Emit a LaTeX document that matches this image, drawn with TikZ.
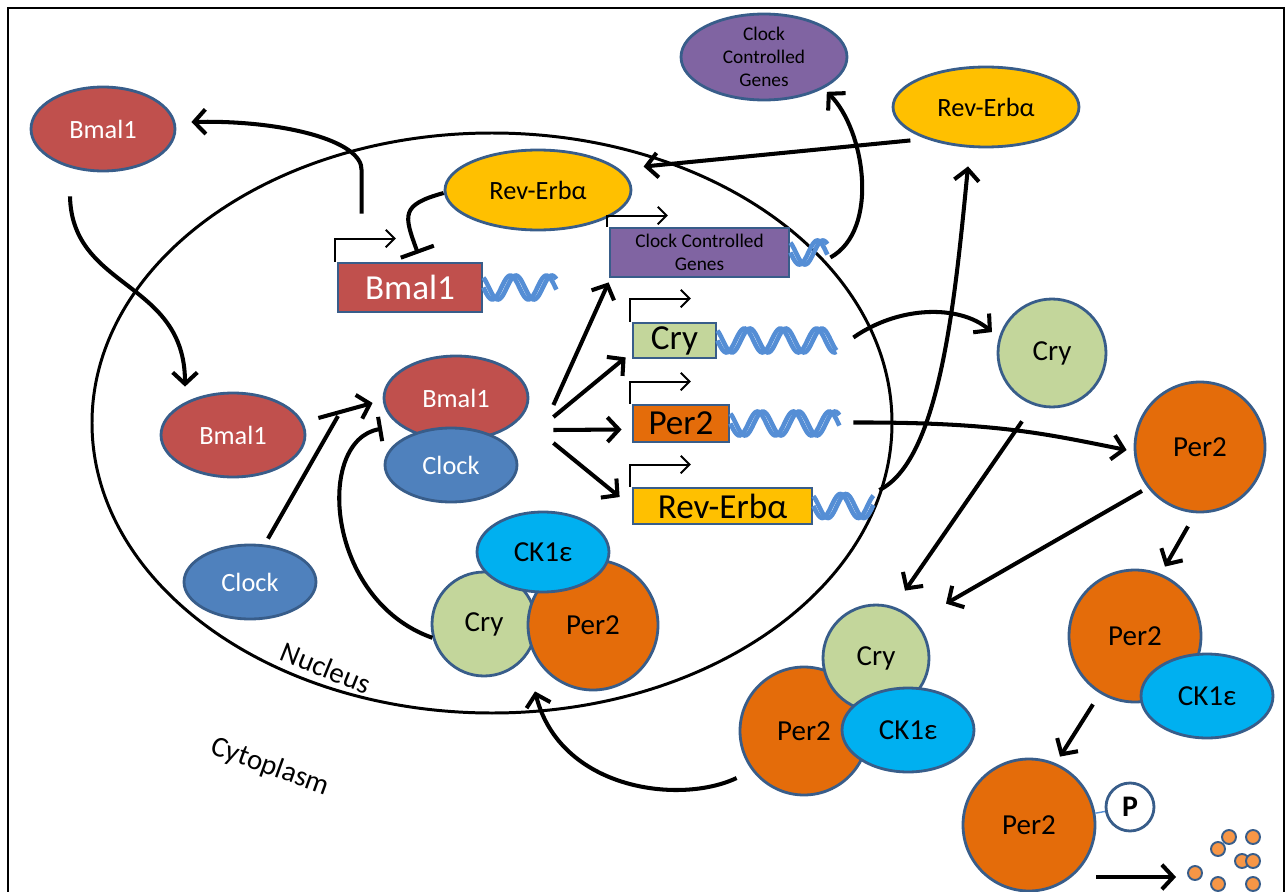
\documentclass[tikz,border=0pt]{standalone}
\usepackage{fontspec}
\setmainfont{Carlito}
\usetikzlibrary{shapes.geometric,arrows.meta}

\definecolor{bmalred}{HTML}{C0504D}
\definecolor{clockblue}{HTML}{4F81BD}
\definecolor{edgeblue}{HTML}{385D8A}
\definecolor{revyellow}{HTML}{FFC000}
\definecolor{ccgpurple}{HTML}{8064A2}
\definecolor{crygreen}{HTML}{C3D69B}
\definecolor{perorange}{HTML}{E46C0A}
\definecolor{ckcyan}{HTML}{00B0F0}
\definecolor{dnablue}{HTML}{558ED5}
\definecolor{dotorange}{HTML}{F79646}

\tikzset{
  prot/.style={ellipse, draw=edgeblue, line width=1.6pt, inner sep=0pt, align=center,
    font=\fontsize{15}{17}\selectfont},
  ball/.style={circle, draw=edgeblue, line width=1.6pt, inner sep=0pt,
    font=\fontsize{16.5}{18}\selectfont},
  gene/.style={rectangle, draw=edgeblue, line width=1.6pt, inner sep=0pt, align=center,
    font=\fontsize{20}{22}\selectfont},
  dot/.style={circle, draw=edgeblue, fill=dotorange, line width=1.1pt, inner sep=0pt,
    minimum size=0.28cm},
  act/.style={line width=2.3pt, -{Straight Barb[length=6.5pt,width=14pt]}},
  inh/.style={line width=2.3pt, -{Bar[width=#1]}},
  inh/.default=20pt,
  prom/.style={line width=1.1pt, -{Straight Barb[length=5pt,width=10pt]}},
  dna/.style={draw=dnablue, line width=2.6pt},
  lbl/.style={font=\fontsize{16.5}{18}\selectfont}
}

\newcommand\promoter[2][23]{\draw[prom] ([xshift=-1pt]#2.north west) -- ++(0,-#1) -- ++(61,0);}
\newcommand\dnahelix[2]{%
  \foreach \ph in {0,55}{%
    \draw[dna,shift={(#1.east)}] plot[domain=0:#2,samples=70,smooth] (\x,{12*sin(10*\x-\ph)});}}

\begin{document}
\begin{tikzpicture}[x=0.02cm,y=-0.02cm]
  \useasboundingbox (0,0) rectangle (1288,892);
  \clip (0,0) rectangle (1288,892);
  \draw[line width=1.4pt] (8,8) rectangle (1284,930);

  \draw[line width=1.7pt] (492,423) ellipse [x radius=400, y radius=290];
  \node[lbl, rotate=-22] (nuclbl) at (326,668) {Nucleus};
  \node[lbl, rotate=-20] (cytolbl) at (270,767) {Cytoplasm};

  % proteins
  \node[prot, fill=bmalred, text=white, minimum width=2.88cm, minimum height=1.68cm] (bmalcyto) at (103,129) {Bmal1};
  \node[prot, fill=bmalred, text=white, minimum width=2.88cm, minimum height=1.68cm] (bmalnuc) at (233,435) {Bmal1};
  \node[prot, fill=bmalred, text=white, minimum width=2.88cm, minimum height=1.68cm] (bmalcx) at (456,398) {Bmal1};
  \node[prot, fill=clockblue, text=white, minimum width=2.64cm, minimum height=1.48cm] (clockcx) at (451,465) {Clock};
  \node[prot, fill=clockblue, text=white, minimum width=2.64cm, minimum height=1.48cm] (clockcyto) at (250,582) {Clock};
  \node[prot, fill=revyellow, minimum width=3.72cm, minimum height=1.6cm] (revnuc) at (538,190) {Rev-Erbα};
  \node[prot, fill=revyellow, minimum width=3.72cm, minimum height=1.6cm] (revcyto) at (986,107) {Rev-Erbα};
  \node[prot, fill=ccgpurple, minimum width=3.32cm, minimum height=1.72cm,
    font=\fontsize{11}{13}\selectfont] (ccgell) at (764,57) {Clock\\Controlled\\Genes};

  \node[ball, fill=crygreen, minimum size=2.16cm] (crycyto) at (1052,353) {Cry};
  \node[ball, fill=perorange, minimum size=2.6cm] (per2) at (1200,447) {Per2};
  \node[ball, fill=perorange, minimum size=2.64cm] (per2ck) at (1135,636) {Per2};
  \node[prot, fill=ckcyan, minimum width=2.64cm, minimum height=1.68cm,
    font=\fontsize{16.5}{18}\selectfont] (ckright) at (1207,696) {CK1ε};
  \node[ball, fill=perorange, minimum size=2.64cm] (per2p) at (1029,825) {Per2};
  \node[ball, fill=white, minimum size=0.96cm, font=\bfseries\fontsize{17}{19}\selectfont] (phos) at (1130,807) {P};
  \draw[draw=dnablue, line width=0.8pt] (per2p) -- (phos);
  \foreach \dx/\dy [count=\i] in {1195/873, 1218/849, 1229/837, 1253/837, 1242/861, 1253/861, 1218/884, 1253/884}
    \node[dot] (d\i) at (\dx,\dy) {};

  \node[ball, fill=crygreen, minimum size=2.08cm] (crynuc) at (484,624) {Cry};
  \node[ball, fill=perorange, minimum size=2.6cm] (pernuc) at (593,625) {Per2};
  \node[prot, fill=ckcyan, minimum width=2.64cm, minimum height=1.6cm,
    font=\fontsize{16.5}{18}\selectfont] (cknuc) at (543,552) {CK1ε};

  \node[ball, fill=perorange, minimum size=2.56cm] (percx) at (804,731) {Per2};
  \node[ball, fill=crygreen, minimum size=2.12cm] (crycx) at (876,658) {Cry};
  \node[prot, fill=ckcyan, minimum width=2.64cm, minimum height=1.68cm,
    font=\fontsize{16.5}{18}\selectfont] (ckcx) at (908,730) {CK1ε};

  % genes
  \node[gene, fill=bmalred, text=white, minimum width=2.88cm, minimum height=0.98cm] (bmalgene) at (410,287.5) {Bmal1};
  \node[gene, fill=ccgpurple, minimum width=3.58cm, minimum height=0.98cm,
    font=\fontsize{11}{13}\selectfont] (ccggene) at (699.5,252.5) {Clock Controlled\\Genes};
  \node[gene, fill=crygreen, minimum width=1.66cm, minimum height=0.7cm] (crygene) at (674.5,340.5) {Cry};
  \node[gene, fill=perorange, minimum width=1.92cm, minimum height=0.74cm] (pergene) at (681,423.5) {Per2};
  \node[gene, fill=revyellow, minimum width=3.58cm, minimum height=0.72cm] (revgene) at (722.5,506) {Rev-Erbα};

  \promoter{bmalgene}
  \promoter[11]{ccggene}
  \promoter{crygene}
  \promoter[22]{pergene}
  \promoter[22]{revgene}

  \dnahelix{bmalgene}{73}
  \dnahelix{ccggene}{37}
  \dnahelix{crygene}{119}
  \dnahelix{pergene}{109}
  \dnahelix{revgene}{60}

  \coordinate (join) at (338,416);

  % connectors
  \draw[act] ([shift={(25,-48)}]bmalgene.north west) -- ++(0,-43)
    .. controls (363,140) and (280,120) .. ([shift={(15,-7)}]bmalcyto.east);
  \draw[act] ([shift={(-33,24)}]bmalcyto.south) .. controls (72,290) and (185,280) .. ([shift={(-48,-5)}]bmalnuc.north);
  \draw[act] ([shift={(12,-17)}]bmalnuc.east) -- ([shift={(-10,5)}]bmalcx.west);
  \draw[line width=2.3pt] ([shift={(18,-5)}]clockcyto.north) -- (join);
  \draw[inh=14pt] (crynuc.195) .. controls (325,600) and (315,440) .. ([xshift=-0.44cm]bmalcx.south west);
  \draw[inh] ([shift={(0,3)}]revnuc.west) .. controls (400,205) and (404,215) .. ([shift={(8,-8)}]bmalgene.north);

  \draw[act] ([shift={(24,7)}]bmalcx.east) -- ([shift={(0,4)}]ccggene.south west);
  \draw[act] ([shift={(24,19)}]bmalcx.east) -- ([shift={(-6,-2)}]crygene.south west);
  \draw[act] ([shift={(24,32)}]bmalcx.east) -- ([shift={(-10,6)}]pergene.west);
  \draw[act] ([shift={(24,45)}]bmalcx.east) -- ([shift={(-12,-9)}]revgene.west);

  \draw[act] ([shift={(40,5)}]ccggene.east) .. controls (880,230) and (865,130) .. ([shift={(6,2)}]ccgell.-30);
  \draw[act] ([shift={(-3,7)}]revcyto.200) -- ([shift={(18,-8)}]revnuc.10);
  \draw[act] ([shift={(66,-16)}]revgene.east) .. controls (940,460) and (955,300) .. ([shift={(-18,18)}]revcyto.south);
  \draw[act] ([shift={(136,-3)}]crygene.east) .. controls (900,305) and (960,305) .. ([shift={(-8,-2)}]crycyto.160);
  \draw[act] ([shift={(123,-1)}]pergene.east) .. controls (1000,422) and (1050,435) .. ([shift={(-7,3)}]per2.west);
  \draw[act] ([shift={(-30,13)}]crycyto.south) -- ([shift={(29,-13)}]crycx.north);
  \draw[act] ([shift={(-5,4)}]per2.217) -- ([shift={(70,0)}]crycx.north);
  \draw[act] ([shift={(-12,13)}]per2.south) -- ([shift={(30,-2)}]per2ck.north);
  \draw[act] ([shift={(-42,1)}]per2ck.south) -- ([shift={(31,-1)}]per2p.north);
  \draw[act] ([shift={(0,52)}]per2p.east) -- ([shift={(-11,4)}]d1.west);
  \draw[act] ([shift={(-2,47)}]percx.west) .. controls (680,805) and (560,790) .. ([shift={(51,14)}]crynuc.south);
\end{tikzpicture}
\end{document}
